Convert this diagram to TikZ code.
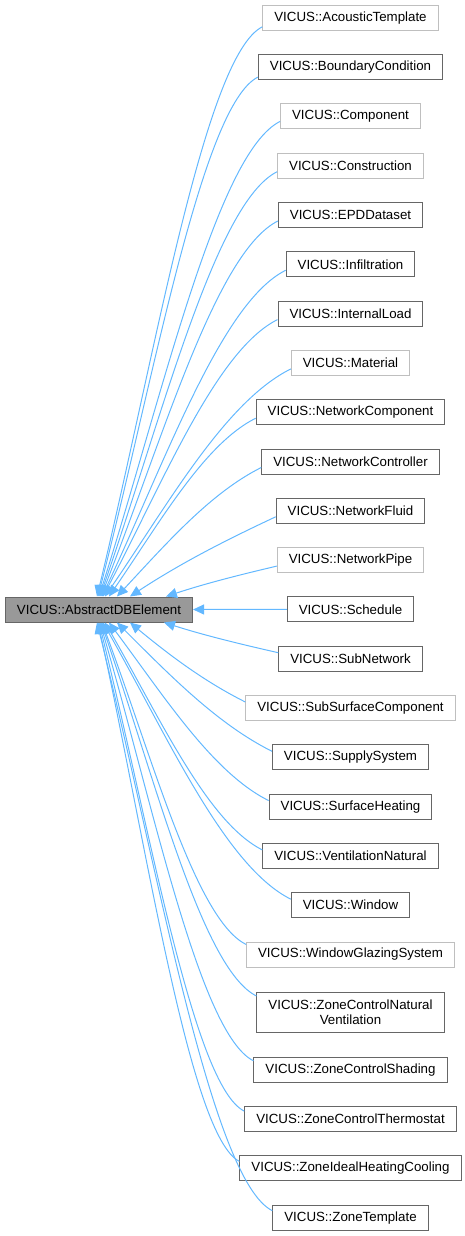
\documentclass[tikz,border=0pt]{standalone}
\usepackage{fontspec}
\setmainfont{Liberation Sans}
\usetikzlibrary{calc,arrows.meta}
\definecolor{edgeblue}{HTML}{63B8FF}
\definecolor{darkborder}{HTML}{666666}
\definecolor{lightborder}{HTML}{BFBFBF}
\definecolor{rootfill}{HTML}{999999}
\tikzset{
  box/.style={draw=darkborder, line width=1pt, fill=white, minimum height=25pt,
    inner xsep=11.5pt, inner ysep=0pt, text=black, align=center,
    font=\fontsize{13.3}{15.5}\selectfont},
  lbox/.style={box, draw=lightborder},
  rootbox/.style={box, fill=rootfill},
  edge/.style={draw=edgeblue, line width=1pt, -{Triangle[length=11pt,width=10pt]}},
}
\newcommand\dbedge[2]{\draw[edge] let \p1=(#1), \p2=(#2), \n1={\x1-\x2}, \n2={\y1-\y2},
  \n3={sign(\n2)*min(0.175*\n1,0.3*abs(\n2))} in
  (\p1) .. controls ({\x1-0.35*\n1},{\y1-\n3}) and ({\x2+0.35*\n1},{\y2+0.42*\n2}) .. (\p2);}
\begin{document}
\begin{tikzpicture}
\useasboundingbox (0pt,0pt) rectangle (465pt,-1236pt);
\node[rootbox] (root) at (99pt,-609.5pt) {VICUS::AbstractDBElement};
\node[lbox] (acoustic) at (350.5pt,-17.8pt) {VICUS::AcousticTemplate};
\node[box] (boundary) at (350.5pt,-67.1pt) {VICUS::BoundaryCondition};
\node[lbox] (component) at (350.5pt,-116.4pt) {VICUS::Component};
\node[lbox] (construction) at (350.5pt,-165.7pt) {VICUS::Construction};
\node[box] (epd) at (350.5pt,-215.0pt) {VICUS::EPDDataset};
\node[box] (infiltration) at (350.5pt,-264.3pt) {VICUS::Infiltration};
\node[box] (internalload) at (350.5pt,-313.6pt) {VICUS::InternalLoad};
\node[lbox] (material) at (350.5pt,-362.9pt) {VICUS::Material};
\node[box] (netcomponent) at (350.5pt,-412.2pt) {VICUS::NetworkComponent};
\node[box] (netcontroller) at (350.5pt,-461.5pt) {VICUS::NetworkController};
\node[box] (netfluid) at (350.5pt,-510.8pt) {VICUS::NetworkFluid};
\node[lbox] (netpipe) at (350.5pt,-560.1pt) {VICUS::NetworkPipe};
\node[box] (schedule) at (350.5pt,-609.4pt) {VICUS::Schedule};
\node[box] (subnetwork) at (350.5pt,-658.7pt) {VICUS::SubNetwork};
\node[lbox] (subsurface) at (350.5pt,-708.0pt) {VICUS::SubSurfaceComponent};
\node[box] (supply) at (350.5pt,-757.3pt) {VICUS::SupplySystem};
\node[box] (surfaceheating) at (350.5pt,-806.6pt) {VICUS::SurfaceHeating};
\node[box] (ventilation) at (350.5pt,-855.9pt) {VICUS::VentilationNatural};
\node[box] (window) at (350.5pt,-905.2pt) {VICUS::Window};
\node[lbox] (wgs) at (350.5pt,-954.5pt) {VICUS::WindowGlazingSystem};
\node[box, minimum height=40pt] (zcnv) at (350.5pt,-1012pt) {VICUS::ZoneControlNatural\\Ventilation};
\node[box] (zcs) at (350.5pt,-1069.8pt) {VICUS::ZoneControlShading};
\node[box] (zct) at (350.5pt,-1119.1pt) {VICUS::ZoneControlThermostat};
\node[box] (zihc) at (350.5pt,-1168.4pt) {VICUS::ZoneIdealHeatingCooling};
\node[box] (zt) at (350.5pt,-1217.7pt) {VICUS::ZoneTemplate};
% edges from children above
\dbedge{[yshift=-9pt]acoustic.west}{[xshift=92pt]root.north west}
\dbedge{[yshift=-10pt]boundary.west}{[xshift=93pt]root.north west}
\dbedge{[yshift=-5pt]component.west}{[xshift=94pt]root.north west}
\dbedge{[yshift=-6pt]construction.west}{[xshift=95pt]root.north west}
\dbedge{[yshift=-6pt]epd.west}{[xshift=96pt]root.north west}
\dbedge{[yshift=-6pt]infiltration.west}{[xshift=97pt]root.north west}
\dbedge{[yshift=-6pt]internalload.west}{[xshift=98pt]root.north west}
\dbedge{[yshift=-6pt]material.west}{[xshift=100pt]root.north west}
\dbedge{[yshift=-6pt]netcomponent.west}{[xshift=104pt]root.north west}
\dbedge{[yshift=-6pt]netcontroller.west}{[xshift=112pt]root.north west}
\dbedge{[yshift=-6pt]netfluid.west}{[xshift=125pt]root.north west}
\dbedge{[yshift=-6pt]netpipe.west}{[xshift=161pt]root.north west}
% straight edge
\draw[edge] (schedule.west) -- (root.east);
% edges from children below
\dbedge{[yshift=6pt]subnetwork.west}{[xshift=159pt]root.south west}
\dbedge{[yshift=6pt]subsurface.west}{[xshift=125pt]root.south west}
\dbedge{[yshift=6pt]supply.west}{[xshift=112pt]root.south west}
\dbedge{[yshift=6pt]surfaceheating.west}{[xshift=104pt]root.south west}
\dbedge{[yshift=6pt]ventilation.west}{[xshift=100pt]root.south west}
\dbedge{[yshift=6pt]window.west}{[xshift=98pt]root.south west}
\dbedge{[yshift=10pt]wgs.west}{[xshift=97pt]root.south west}
\dbedge{[yshift=16pt]zcnv.west}{[xshift=96pt]root.south west}
\dbedge{[yshift=9pt]zcs.west}{[xshift=95pt]root.south west}
\dbedge{[yshift=8pt]zct.west}{[xshift=94pt]root.south west}
\dbedge{[yshift=7pt]zihc.west}{[xshift=93pt]root.south west}
\dbedge{[yshift=7pt]zt.west}{[xshift=92pt]root.south west}
\end{tikzpicture}
\end{document}
